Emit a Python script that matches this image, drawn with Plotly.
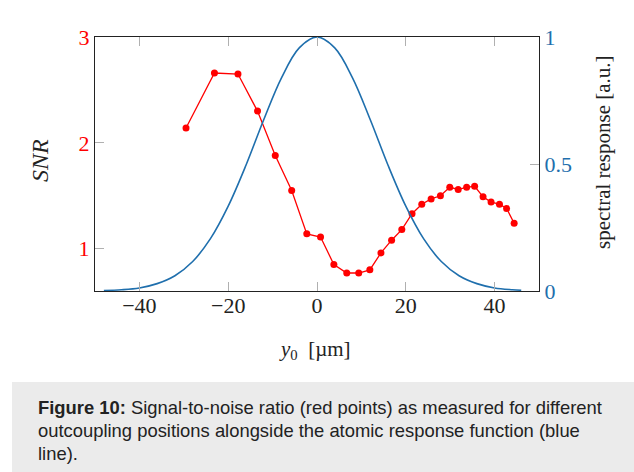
import plotly.graph_objects as go

# SNR measurements (red points)
snr_x = [-29.5, -23.1, -17.8, -13.4, -9.4, -5.7, -2.3, 0.8, 3.8, 6.7, 9.4, 11.9,
         14.4, 16.8, 19.1, 21.4, 23.6, 25.7, 27.8, 29.9, 31.8, 33.7, 35.5, 37.4,
         39.2, 41.1, 42.7, 44.4]
snr_y = [2.14, 2.66, 2.65, 2.30, 1.88, 1.55, 1.14, 1.11, 0.85, 0.77, 0.77, 0.80,
         0.96, 1.08, 1.18, 1.33, 1.42, 1.47, 1.50, 1.58, 1.56, 1.58, 1.59, 1.49,
         1.44, 1.42, 1.38, 1.24]

# spectral response (blue line)
resp_x = [-48, -44, -40, -36, -32, -28, -24, -20, -16, -12, -8, -4, 0,
          4, 8, 12, 16, 20, 24, 28, 32, 36, 40, 44, 46]
resp_y = [0.002, 0.005, 0.012, 0.029, 0.060, 0.116, 0.206, 0.334, 0.495, 0.674, 0.839, 0.957, 1.0,
          0.957, 0.839, 0.674, 0.495, 0.334, 0.206, 0.116, 0.060, 0.029, 0.012, 0.005, 0.003]

x_ticks = [-40, -20, 0, 20, 40]
x_ticktext = ["\u221240", "\u221220", "0", "20", "40"]
y1_ticks = [1, 2, 3]
y2_ticks = [0, 0.5, 1]
y2_ticktext = ["0", "0.5", "1"]

caption_lines = [
    "<b>Figure 10:</b> Signal-to-noise ratio (red points) as measured for different",
    "outcoupling positions alongside the atomic response function (blue",
    "line).",
]

RED = "#ff0000"
BLUE = "#1f6fad"
SERIF = "Liberation Serif"

W, H = 634, 472
L, R, T, B = 95, 539, 37, 291
pw, ph = R - L, B - T


def px(x):
    return (x - L) / pw


def py(y):
    return (B - y) / ph


fig = go.Figure()
fig.add_trace(go.Scatter(x=resp_x, y=resp_y, yaxis="y2", mode="lines",
                         line=dict(color=BLUE, width=1.6, shape="spline"),
                         showlegend=False, hoverinfo="skip"))
fig.add_trace(go.Scatter(x=snr_x, y=snr_y, mode="lines+markers",
                         line=dict(color=RED, width=1.3),
                         marker=dict(color=RED, size=7),
                         showlegend=False))

axis_common = dict(showgrid=False, zeroline=False, showline=True,
                   linecolor="#222", linewidth=1.4, ticks="inside",
                   ticklen=9, tickwidth=1, tickcolor="#b0b0b0")

fig.update_layout(
    width=W, height=H,
    margin=dict(l=L, r=W - R, t=T, b=H - B, pad=0),
    paper_bgcolor="white", plot_bgcolor="white",
    font=dict(family=SERIF, size=22, color="#222"),
    xaxis=dict(range=[-50, 50], tickvals=x_ticks, ticktext=x_ticktext,
               mirror="ticks", ticklabelstandoff=-6, **axis_common),
    yaxis=dict(range=[0.6, 3], tickvals=y1_ticks, tickfont=dict(color=RED),
               **axis_common),
    yaxis2=dict(range=[0, 1], tickvals=y2_ticks, ticktext=y2_ticktext,
                overlaying="y", side="right", tickfont=dict(color=BLUE),
                **axis_common),
)

# caption box
fig.add_shape(type="rect", xref="paper", yref="paper",
              x0=px(12), x1=px(640), y0=py(382), y1=py(476),
              fillcolor="#ebebeb", line=dict(width=0), layer="below")

ann = []
ann.append(dict(text="<i>SNR</i>", x=px(40), y=py(161), textangle=-90,
                font=dict(family=SERIF, size=24, color="#222")))
ann.append(dict(text="spectral response [a.u.]", x=px(603), y=py(152), textangle=-90,
                font=dict(family=SERIF, size=21, color="#222")))
ann.append(dict(text="<i>y</i><sub>0</sub>  [\u00b5m]", x=px(315), y=py(350),
                font=dict(family=SERIF, size=21, color="#222")))
for i, line in enumerate(caption_lines):
    ann.append(dict(text=line, x=px(36), y=py(407 + 23 * i), xanchor="left",
                    font=dict(family="Liberation Sans", size=18.4, color="#222")))
for a in ann:
    a.update(xref="paper", yref="paper", showarrow=False)
    a.setdefault("xanchor", "center")
    a.setdefault("yanchor", "middle")
fig.update_layout(annotations=ann)

fig.write_html("out.html", config={"displayModeBar": False},
               post_script="document.body.style.margin='0';")
